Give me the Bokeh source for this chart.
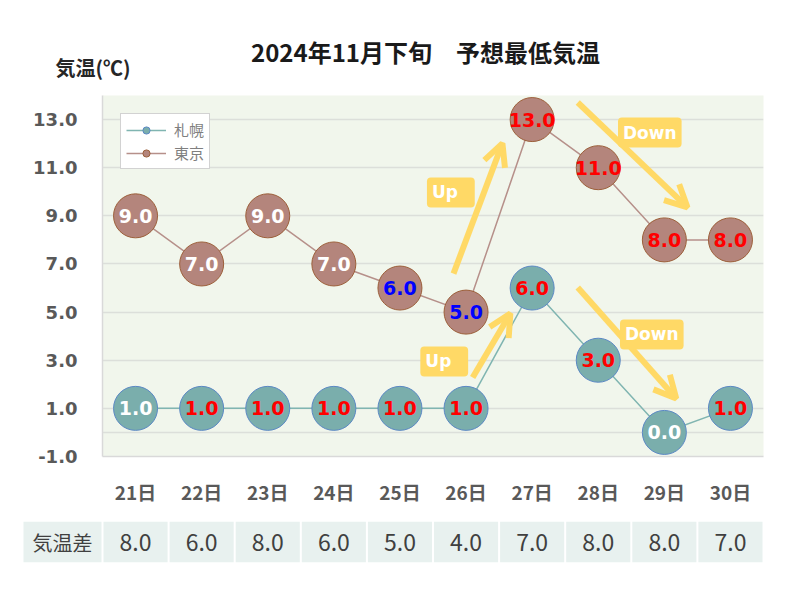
from bokeh.plotting import figure
from bokeh.models import (Range1d, FixedTicker, Label, Arrow, OpenHead, Legend, LegendItem,
                          ColumnDataSource, NumeralTickFormatter)
from bokeh.layouts import column
from bokeh.embed import file_html
from bokeh.resources import INLINE
from bokeh.core.properties import value

# ---- data ----
days = ["21日", "22日", "23日", "24日", "25日", "26日", "27日", "28日", "29日", "30日"]
sapporo = [1.0, 1.0, 1.0, 1.0, 1.0, 1.0, 6.0, 3.0, 0.0, 1.0]
tokyo = [9.0, 7.0, 9.0, 7.0, 6.0, 5.0, 13.0, 11.0, 8.0, 8.0]
diff = [8.0, 6.0, 8.0, 6.0, 5.0, 4.0, 7.0, 8.0, 8.0, 7.0]
sapporo_label_colors = ["white", "red", "red", "red", "red", "red", "red", "red", "white", "red"]
tokyo_label_colors = ["white", "white", "white", "white", "blue", "blue", "red", "red", "red", "red"]
y_ticks = [-1, 1, 3, 5, 7, 9, 11, 13]
grid_ticks = [-1, 0, 1, 3, 5, 7, 9, 11, 13]
title_text = "2024年11月下旬　予想最低気温"
y_title_text = "気温(℃)"
row_title = "気温差"

xs = list(range(len(days)))
JP = "Noto Sans CJK JP"
NUM = "DejaVu Sans"
YEL = "#ffd966"
W = 792

# ---- header (titles) ----
h = figure(width=W, height=95, x_range=Range1d(0, W), y_range=Range1d(0, 95),
           output_backend="svg", toolbar_location=None, frame_align=False,
           min_border_left=0, min_border_right=0, min_border_top=0, min_border_bottom=0)
h.axis.visible = False
h.grid.visible = False
h.outline_line_color = None
h.text(x=[425], y=[44], text=[title_text], text_font=value(JP), text_font_style="bold",
       text_font_size="24px", text_color="#1a1a1a", text_align="center", text_baseline="middle")
h.text(x=[55], y=[28], text=[y_title_text], text_font=value(JP), text_font_style="bold",
       text_font_size="20px", text_color="#262626", text_align="left", text_baseline="middle")

# ---- main chart ----
p = figure(width=W, height=415, x_range=Range1d(-0.5, 9.5), y_range=Range1d(-1, 14),
           output_backend="svg", toolbar_location=None, frame_align=False,
           min_border_left=102, min_border_right=29, min_border_top=0, min_border_bottom=54)
p.background_fill_color = "#f1f6ec"
p.border_fill_color = "white"
p.outline_line_color = None

p.xgrid.visible = False
p.ygrid.ticker = FixedTicker(ticks=grid_ticks)
p.ygrid.grid_line_color = "#dcdfda"
p.ygrid.grid_line_width = 1.5

p.yaxis.ticker = FixedTicker(ticks=y_ticks)
p.yaxis.formatter = NumeralTickFormatter(format="0.0")
p.yaxis.axis_line_color = "#d9d9d9"
p.yaxis.axis_line_width = 1.5
p.yaxis.major_tick_line_color = None
p.yaxis.minor_tick_line_color = None
p.yaxis.major_tick_out = 0
p.yaxis.major_tick_in = 0
p.yaxis.major_label_standoff = 25
p.yaxis.major_label_text_font = NUM
p.yaxis.major_label_text_font_style = "bold"
p.yaxis.major_label_text_font_size = "18px"
p.yaxis.major_label_text_color = "#595959"

p.xaxis.ticker = FixedTicker(ticks=xs)
p.xaxis.major_label_overrides = {i: d for i, d in enumerate(days)}
p.xaxis.axis_line_color = "#d9d9d9"
p.xaxis.axis_line_width = 1.5
p.xaxis.major_tick_line_color = None
p.xaxis.minor_tick_line_color = None
p.xaxis.major_tick_out = 0
p.xaxis.major_tick_in = 0
p.xaxis.major_label_standoff = 21
p.xaxis.major_label_text_font = JP
p.xaxis.major_label_text_font_style = "bold"
p.xaxis.major_label_text_font_size = "19px"
p.xaxis.major_label_text_color = "#595959"

s_src = ColumnDataSource(dict(x=xs, y=sapporo, t=[f"{v:.1f}" for v in sapporo], c=sapporo_label_colors))
t_src = ColumnDataSource(dict(x=xs, y=tokyo, t=[f"{v:.1f}" for v in tokyo], c=tokyo_label_colors))

s_line = p.line("x", "y", source=s_src, line_color="#80b5b1", line_width=1.5)
t_line = p.line("x", "y", source=t_src, line_color="#b6908a", line_width=1.5)
s_sc = p.scatter("x", "y", source=s_src, size=44, fill_color="#7aaeac", line_color="#5b88c4", line_width=1)
t_sc = p.scatter("x", "y", source=t_src, size=44, fill_color="#b4857c", line_color="#9c5f3a", line_width=1)

for src in (s_src, t_src):
    p.text("x", "y", text="t", source=src, text_color="c", text_font=value(NUM),
           text_font_style="bold", text_font_size="19px", text_align="center", text_baseline="middle")

legend = Legend(items=[LegendItem(label="札幌", renderers=[s_line, s_sc]),
                       LegendItem(label="東京", renderers=[t_line, t_sc])],
                location="top_left")
legend.margin = 18
legend.padding = 5
legend.spacing = 2
legend.glyph_width = 40
legend.glyph_height = 18
legend.label_height = 18
legend.label_standoff = 8
legend.label_text_font = JP
legend.label_text_font_size = "15px"
legend.label_text_color = "#7f7f7f"
legend.label_text_baseline = "middle"
legend.border_line_color = "#a6a6a6"
legend.background_fill_color = "white"
legend.background_fill_alpha = 1
p.add_layout(legend)

# trend arrows
arrows = [
    (4.81, 6.60, 5.55, 12.01),
    (6.69, 13.71, 8.35, 9.35),
    (5.10, 2.28, 5.67, 4.94),
    (6.69, 6.02, 8.18, 1.41),
]
for x0, y0, x1, y1 in arrows:
    p.add_layout(Arrow(end=OpenHead(line_color=YEL, line_width=6, size=22),
                       x_start=x0, y_start=y0, x_end=x1, y_end=y1,
                       line_color=YEL, line_width=6))

tags = [(" Up ", 4.77, 9.97), ("Down", 7.78, 12.46), (" Up ", 4.67, 2.95), ("Down", 7.81, 4.07)]
for txt, lx, ly in tags:
    p.add_layout(Label(x=lx, y=ly, text=txt, text_color="white", text_font=NUM,
                       text_font_style="bold", text_font_size="17px", text_align="center",
                       text_baseline="middle", background_fill_color=YEL,
                       padding=5, border_radius=4))

# ---- table ----
left = -0.5 - (102 - 22) / 66.1
t = figure(width=W, height=57, x_range=Range1d(left, 9.5), y_range=Range1d(0, 1),
           output_backend="svg", toolbar_location=None, frame_align=False,
           min_border_left=22, min_border_right=29, min_border_top=11, min_border_bottom=5)
t.axis.visible = False
t.grid.visible = False
t.outline_line_color = None
t.background_fill_color = "white"
sep = 2 / 66.1
cell_x = [(left - 0.5) / 2] + xs
cell_w = [(-0.5 - left) - sep] + [1 - sep] * len(xs)
t.rect(x=cell_x, y=[0.5] * len(cell_x), width=cell_w, height=[1] * len(cell_x),
       fill_color="#e8f1ef", line_color=None)
t.text(x=cell_x[:1], y=[0.5], text=[row_title],
       text_color="#404040", text_font=value(JP), text_font_size="20px",
       text_align="center", text_baseline="middle")
t.text(x=xs, y=[0.5] * len(xs), text=[f"{d:.1f}" for d in diff],
       text_color="#404040", text_font=value(JP), text_font_size="23px",
       text_align="center", text_baseline="middle")

layout = column(h, p, t, spacing=0)
open("out.html", "w").write(file_html(layout, INLINE))
